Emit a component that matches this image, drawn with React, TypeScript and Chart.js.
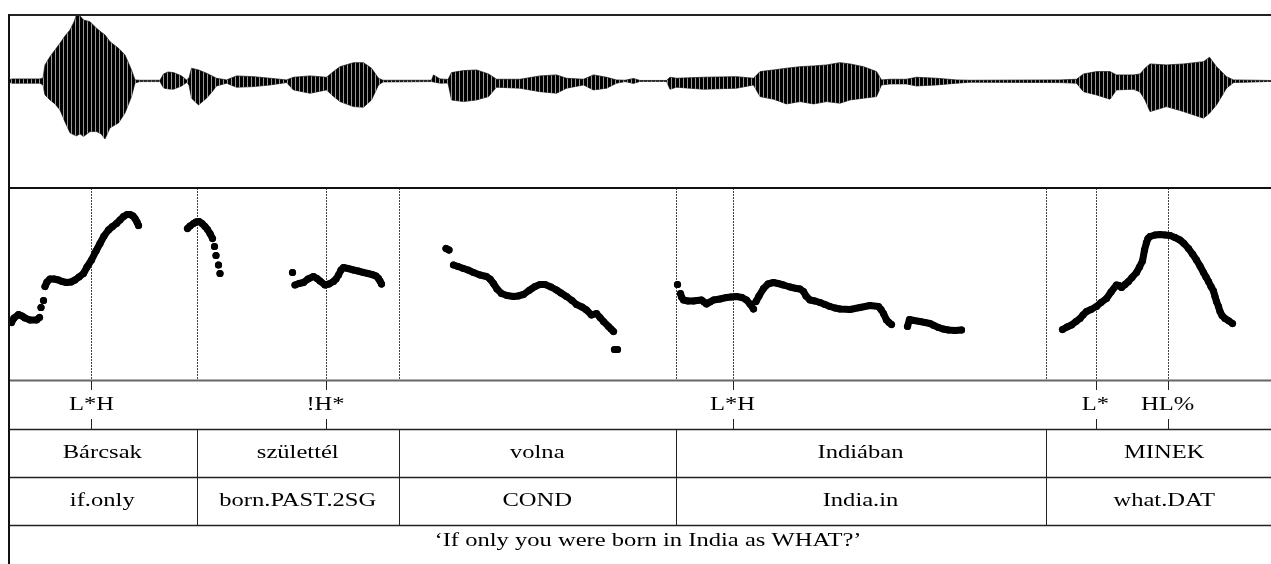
import React, { useEffect, useRef } from "react";
import { Chart, registerables } from "chart.js";

Chart.register(...registerables);

// ---------- DATA (time in ms) ----------
// Waveform envelope (upper / lower amplitude, normalised)
const waveTime = [2, 8, 24, 44, 64, 70, 74, 84, 94, 104, 114, 124, 132, 137, 144, 151, 164, 177, 186, 194, 204, 221, 234, 247, 254, 264, 304, 311, 320, 331, 347, 357, 362, 367, 381, 397, 408, 417, 437, 457, 491, 524, 557, 571, 604, 637, 650, 664, 691, 711, 727, 741, 750, 847, 851, 864, 880, 887, 911, 937, 961, 977, 1024, 1064, 1097, 1117, 1151, 1171, 1197, 1217, 1234, 1251, 1264, 1317, 1324, 1337, 1391, 1457, 1491, 1504, 1531, 1557, 1584, 1611, 1637, 1664, 1684, 1711, 1737, 1747, 1764, 1797, 1817, 1857, 1897, 1924, 2104, 2137, 2151, 2177, 2204, 2217, 2251, 2264, 2274, 2284, 2317, 2351, 2391, 2403, 2417, 2437, 2451, 2526];
const waveUpper = [0.015, 0.03, 0.03, 0.03, 0.03, 0.045, 0.239, 0.363, 0.463, 0.563, 0.672, 0.761, 0.881, 0.985, 0.97, 0.91, 0.885, 0.787, 0.731, 0.687, 0.587, 0.488, 0.388, 0.164, 0.015, 0.01, 0.01, 0.104, 0.134, 0.124, 0.075, 0.015, 0.045, 0.19, 0.164, 0.115, 0.075, 0.04, 0.015, 0.075, 0.064, 0.04, 0.015, 0.055, 0.075, 0.055, 0.134, 0.213, 0.273, 0.273, 0.19, 0.04, 0.01, 0.01, 0.09, 0.03, 0.022, 0.124, 0.154, 0.164, 0.104, 0.025, 0.025, 0.075, 0.09, 0.04, 0.025, 0.09, 0.055, 0.015, 0.01, 0.037, 0.007, 0.007, 0.055, 0.04, 0.055, 0.064, 0.04, 0.139, 0.164, 0.19, 0.213, 0.224, 0.239, 0.273, 0.254, 0.213, 0.139, 0.015, 0.025, 0.025, 0.055, 0.04, 0.015, 0.01, 0.015, 0.025, 0.104, 0.139, 0.139, 0.09, 0.09, 0.104, 0.19, 0.254, 0.239, 0.254, 0.288, 0.354, 0.213, 0.064, 0.015, 0.007];
const waveLower = [-0.015, -0.034, -0.034, -0.034, -0.034, -0.06, -0.209, -0.284, -0.343, -0.433, -0.612, -0.776, -0.806, -0.821, -0.791, -0.831, -0.757, -0.757, -0.791, -0.866, -0.701, -0.627, -0.478, -0.234, -0.03, -0.01, -0.01, -0.104, -0.119, -0.124, -0.075, -0.025, -0.06, -0.258, -0.358, -0.258, -0.164, -0.075, -0.034, -0.094, -0.085, -0.06, -0.025, -0.134, -0.184, -0.134, -0.224, -0.309, -0.384, -0.393, -0.284, -0.06, -0.015, -0.01, -0.015, -0.034, -0.03, -0.284, -0.309, -0.284, -0.234, -0.094, -0.109, -0.16, -0.184, -0.109, -0.06, -0.134, -0.109, -0.034, -0.01, -0.037, -0.007, -0.007, -0.124, -0.094, -0.124, -0.109, -0.06, -0.234, -0.273, -0.343, -0.309, -0.343, -0.309, -0.333, -0.284, -0.258, -0.234, -0.06, -0.045, -0.045, -0.075, -0.06, -0.034, -0.019, -0.025, -0.034, -0.16, -0.209, -0.273, -0.134, -0.124, -0.164, -0.284, -0.458, -0.384, -0.458, -0.557, -0.482, -0.358, -0.109, -0.025, -0.007];

// Pitch track (Hz); null = unvoiced
const pitchTime = [7, 12, 21, 28, 34, 44, 57, 63, 65, 66, 68, 71, 72,
  74, 78, 84, 92, 101, 108, 117, 126, 134, 142, 151, 158, 167, 176, 184, 192, 201, 209, 217, 224, 231, 238, 244, 250, 254, 258, 261, 300,
  359, 364, 371, 376, 382, 388, 394, 399, 404, 409, 411, 413, 414, 416, 418, 421, 422, 424, 500,
  569, 572, 574, 582, 591, 600, 611, 618, 624, 634, 642, 651, 656, 661, 666, 671, 680, 691, 700, 711, 720, 731, 736, 741, 744, 747, 800,
  876, 882, 886, 891, 900, 911, 920, 931, 944, 957, 964, 971, 978, 987, 998, 1011, 1020, 1031, 1042, 1054, 1064, 1074, 1086, 1097, 1106, 1117, 1128, 1137, 1148, 1157, 1167, 1177, 1184, 1191, 1201, 1206, 1211, 1212, 1213, 1219, 1300,
  1339, 1342, 1345, 1347, 1351, 1360, 1371, 1378, 1387, 1392, 1397, 1404, 1411, 1424, 1437, 1446, 1457, 1468, 1477, 1484, 1491, 1494,
  1496, 1502, 1511, 1520, 1531, 1540, 1551, 1564, 1577, 1584, 1591, 1596, 1604, 1614, 1624, 1634, 1644, 1654, 1664, 1684, 1704, 1724, 1741, 1746, 1751, 1757, 1762, 1767, 1780,
  1799, 1803, 1812, 1824, 1834, 1844, 1852, 1861, 1870, 1881, 1894, 1907, 2000,
  2109, 2118, 2127, 2136, 2144, 2150, 2157, 2166, 2177, 2186, 2197, 2206, 2217, 2222, 2227, 2234, 2241, 2248, 2257, 2263, 2269, 2273, 2277, 2280, 2284, 2294, 2304, 2314, 2324, 2334, 2344, 2352, 2361, 2369, 2377, 2384, 2391, 2396, 2401, 2406, 2411, 2414, 2417, 2421, 2424, 2428, 2434, 2442, 2449];
const pitchHz = [190, 199, 206, 203, 199, 195, 195, 200, null, 220, null, 234, null,
  262, 271, 277, 277, 275, 272, 270, 271, 275, 281, 288, 301, 315, 333, 348, 363, 375, 382, 388, 395, 402, 406, 406, 403, 398, 391, 384, null,
  378, 383, 388, 391, 392, 388, 382, 376, 368, 358, null, 342, null, 324, null, 305, null, 288, null,
  290, null, 265, 268, 270, 277, 282, 278, 273, 265, 267, 272, 277, 285, 295, 300, 298, 295, 293, 290, 288, 285, 283, 278, 273, 267, null,
  338, 335, null, 305, 302, 298, 295, 290, 285, 282, 277, 268, 257, 248, 244, 242, 243, 246, 254, 262, 266, 266, 261, 255, 249, 242, 234, 226, 221, 215, 205, 208, 200, 192, 182, 177, 172, null, 136, 136, null,
  266, null, 248, 241, 235, 233, 233, 234, 235, 231, 227, 231, 235, 237, 240, 241, 242, 240, 235, 227, 217, null,
  232, 243, 258, 267, 270, 268, 265, 261, 258, 257, 252, 243, 235, 233, 230, 226, 222, 219, 217, 216, 220, 224, 222, 216, 208, 195, 190, 186, null,
  182, 196, 194, 192, 190, 188, 184, 180, 177, 175, 174, 175, null,
  176, 181, 185, 192, 198, 205, 212, 216, 222, 230, 238, 251, 265, 264, 260, 266, 272, 280, 290, 301, 313, 335, 350, 358, 362, 365, 366, 365, 364, 360, 355, 348, 338, 327, 315, 303, 290, 281, 272, 262, 253, 242, 232, 222, 212, 204, 198, 193, 188];

// TextGrid tiers
const toneTimes = [167, 635, 1449, 2175, 2319];
const toneLabels = ["L*H", "!H*", "L*H", "L*", "HL%"];
const wordStarts = [0, 377, 782, 1335, 2075];
const wordEnds = [377, 782, 1335, 2075, 2550];
const words = ["Bárcsak", "születtél", "volna", "Indiában", "MINEK"];
const glosses = ["if.only", "born.PAST.2SG", "COND", "India.in", "what.DAT"];
const translation = "\u2018If only you were born in India as WHAT?\u2019";
const translationSpan = [0, 2560];

const FONT = '19.5px "Liberation Serif", "Times New Roman", serif';

function drawStretched(ctx: CanvasRenderingContext2D, text: string, x: number, y: number) {
  ctx.save();
  ctx.translate(x, y);
  ctx.scale(1.26, 1);
  ctx.fillText(text, 0, 0);
  ctx.restore();
}

function stripePattern(): CanvasPattern | string {
  const c = document.createElement("canvas");
  c.width = 4;
  c.height = 1;
  const g = c.getContext("2d");
  if (!g) return "#000";
  g.fillStyle = "#000";
  g.fillRect(0, 0, 3, 1);
  g.fillStyle = "#999";
  g.fillRect(3, 0, 1, 1);
  return g.createPattern(c, "repeat") || "#000";
}

const praatPlugin = {
  id: "praat",
  beforeDatasetsDraw(chart: any) {
    const { ctx, scales } = chart;
    const xs = scales.x;
    const yp = scales.yPitch;
    ctx.save();
    ctx.strokeStyle = "#444";
    ctx.lineWidth = 1;
    ctx.setLineDash([2, 1]);
    const marks = [...wordStarts.slice(1), ...toneTimes];
    marks.forEach((t) => {
      const x = Math.round(xs.getPixelForValue(t)) + 0.5;
      ctx.beginPath();
      ctx.moveTo(x, yp.top);
      ctx.lineTo(x, yp.bottom);
      ctx.stroke();
    });
    ctx.restore();
  },
  afterDatasetsDraw(chart: any) {
    const { ctx, scales, chartArea, height } = chart;
    const xs = scales.x;
    const yw = scales.yWave;
    const yp = scales.yPitch;
    const yt = scales.yTier;
    const L = chartArea.left;
    const R = chartArea.right;
    ctx.save();
    ctx.setLineDash([]);
    const hline = (y: number, w: number, c: string) => {
      ctx.strokeStyle = c;
      ctx.lineWidth = w;
      ctx.beginPath();
      ctx.moveTo(L, y);
      ctx.lineTo(R, y);
      ctx.stroke();
    };
    // frame
    hline(yw.top + 1, 2, "#222");
    hline(yp.top, 2, "#111");
    hline(yp.bottom - 0.5, 2, "#666");
    [1, 2, 3].forEach((v) => hline(Math.round(yt.getPixelForValue(v)) + 0.5, 1.3, "#222"));
    ctx.strokeStyle = "#111";
    ctx.lineWidth = 2;
    ctx.beginPath();
    ctx.moveTo(L + 1, yw.top);
    ctx.lineTo(L + 1, height);
    ctx.stroke();

    // tone tier ticks
    const r0 = yt.getPixelForValue(0);
    const r1 = yt.getPixelForValue(1);
    const r3 = yt.getPixelForValue(3);
    ctx.strokeStyle = "#222";
    ctx.lineWidth = 1;
    toneTimes.forEach((t) => {
      const x = Math.round(xs.getPixelForValue(t)) + 0.5;
      ctx.beginPath();
      ctx.moveTo(x, r0);
      ctx.lineTo(x, r0 + 9);
      ctx.moveTo(x, r1 - 10);
      ctx.lineTo(x, r1);
      ctx.stroke();
    });
    // word / gloss boundaries
    wordStarts.slice(1).forEach((t) => {
      const x = Math.round(xs.getPixelForValue(t)) + 0.5;
      ctx.beginPath();
      ctx.moveTo(x, r1);
      ctx.lineTo(x, r3);
      ctx.stroke();
    });

    // labels
    ctx.fillStyle = "#000";
    ctx.font = FONT;
    ctx.textAlign = "center";
    ctx.textBaseline = "middle";
    const tc = (a: number, b: number) => (yt.getPixelForValue(a) + yt.getPixelForValue(b)) / 2;
    toneTimes.forEach((t, i) => drawStretched(ctx, toneLabels[i], xs.getPixelForValue(t), tc(0, 1)));
    words.forEach((w, i) =>
      drawStretched(ctx, w, (xs.getPixelForValue(wordStarts[i]) + xs.getPixelForValue(wordEnds[i])) / 2, tc(1, 2))
    );
    glosses.forEach((g, i) =>
      drawStretched(ctx, g, (xs.getPixelForValue(wordStarts[i]) + xs.getPixelForValue(wordEnds[i])) / 2, tc(2, 3))
    );
    drawStretched(
      ctx,
      translation,
      (xs.getPixelForValue(translationSpan[0]) + xs.getPixelForValue(translationSpan[1])) / 2,
      tc(3, 3.68)
    );
    ctx.restore();
  },
};

export default function App() {
  const ref = useRef<HTMLCanvasElement>(null);
  useEffect(() => {
    document.body.style.margin = "0";
    document.body.style.overflow = "hidden";
    const upper = waveTime.map((t, i) => ({ x: t, y: waveUpper[i] }));
    const lower = waveTime.map((t, i) => ({ x: t, y: waveLower[i] }));
    const pitch = pitchTime.map((t, i) => ({ x: t, y: pitchHz[i] }));
    const chart = new Chart(ref.current as HTMLCanvasElement, {
      type: "line",
      data: {
        datasets: [
          {
            data: upper as any,
            yAxisID: "yWave",
            borderColor: "#111",
            borderWidth: 0.7,
            pointRadius: 0,
            fill: "+1",
            backgroundColor: stripePattern(),
            tension: 0,
          },
          {
            data: lower as any,
            yAxisID: "yWave",
            borderColor: "#111",
            borderWidth: 0.7,
            pointRadius: 0,
            fill: false,
            tension: 0,
          },
          {
            data: pitch as any,
            yAxisID: "yPitch",
            borderColor: "#000",
            borderWidth: 7,
            borderCapStyle: "round",
            borderJoinStyle: "round",
            pointRadius: 3.6,
            pointBackgroundColor: "#000",
            pointBorderWidth: 0,
            spanGaps: false,
            fill: false,
            tension: 0,
          },
        ],
      },
      options: {
        responsive: false,
        animation: false,
        devicePixelRatio: 1,
        layout: { autoPadding: false, padding: { left: 8, top: 14, right: 0, bottom: 0 } },
        plugins: { legend: { display: false }, tooltip: { enabled: false } },
        events: [],
        scales: {
          x: { type: "linear", min: 0, max: 2526, display: false },
          yWave: { type: "linear", min: -1.6, max: 1.0, display: false, position: "left", stack: "praat", stackWeight: 174, weight: 3 },
          yPitch: { type: "linear", min: 73, max: 459, display: false, position: "left", stack: "praat", stackWeight: 193, weight: 2 },
          yTier: { type: "linear", min: 0, max: 183 / 48, reverse: true, display: false, position: "left", stack: "praat", stackWeight: 183, weight: 1 },
        },
      } as any,
      plugins: [praatPlugin],
    });
    return () => chart.destroy();
  }, []);
  return <canvas ref={ref} width={1271} height={564} style={{ display: "block", width: 1271, height: 564 }} />;
}
